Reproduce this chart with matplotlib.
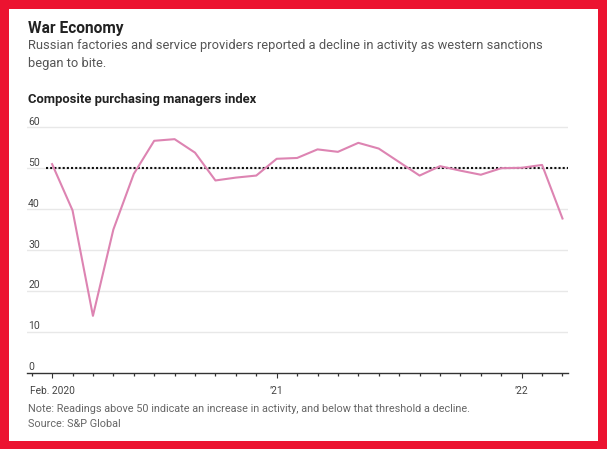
import matplotlib.pyplot as plt
from matplotlib.patches import Rectangle

plt.rcParams['font.family'] = ['Roboto', 'DejaVu Sans']

# monthly composite PMI, Feb 2020 .. Mar 2022
months = ["2020-02", "2020-03", "2020-04", "2020-05", "2020-06", "2020-07",
          "2020-08", "2020-09", "2020-10", "2020-11", "2020-12", "2021-01",
          "2021-02", "2021-03", "2021-04", "2021-05", "2021-06", "2021-07",
          "2021-08", "2021-09", "2021-10", "2021-11", "2021-12", "2022-01",
          "2022-02", "2022-03"]
pmi = [51.0, 39.7, 13.9, 35.0, 48.6, 56.7, 57.1, 53.8, 47.0, 47.7, 48.2, 52.3,
       52.5, 54.6, 54.0, 56.2, 54.8, 51.5, 48.2, 50.5, 49.4, 48.4, 50.0, 50.1,
       50.8, 37.7]
y_ticks = [0, 10, 20, 30, 40, 50, 60]
x_label_pos = [0, 11, 23]
x_labels = ["Feb. 2020", "\u201921", "\u201922"]

W, H = 607, 449
fig = plt.figure(figsize=(W / 100, H / 100), dpi=100, facecolor='#EC1330')
fig.patches.append(Rectangle((9 / W, 1 - 441 / H), 589 / W, 432 / H,
                             transform=fig.transFigure, facecolor='white',
                             edgecolor='none', zorder=-1))

def ftext(x, y, s, **kw):
    fig.text(x / W, 1 - y / H, s, va='baseline', ha='left', **kw)

ftext(28, 32.7, "War Economy", fontsize=11.2, fontweight='bold', color='#222222')
ftext(28, 48.5, "Russian factories and service providers reported a decline in activity as western sanctions",
      fontsize=9.3, color='#555555')
ftext(28, 66.5, "began to bite.", fontsize=9.3, color='#555555')
ftext(28, 103.3, "Composite purchasing managers index", fontsize=9.4, fontweight='bold', color='#222222')
ftext(28, 411.7, "Note: Readings above 50 indicate an increase in activity, and below that threshold a decline.",
      fontsize=7.8, color='#666666')
ftext(28, 426.7, "Source: S&P Global", fontsize=7.8, color='#666666')

# axes: x from 27 to 568 px, y=0 at 372.7 px, 4.09 px per unit
ax = fig.add_axes([27 / W, (H - 372.7) / H, 541 / W, 62 * 4.09 / H])
ax.set_facecolor('none')
ax.set_xlim(-1.23, 25.27)
ax.set_ylim(0, 62)

for v in y_ticks[1:]:
    ax.axhline(v, color='#e8e8e8', lw=1, zorder=1)
for v in y_ticks:
    ax.text(0.002, v + 0.6, str(v), transform=ax.get_yaxis_transform(),
            va='baseline', ha='left', fontsize=7.5, color='#444444')

ax.plot([-0.3, 25.25], [50, 50], color='#111111', lw=1.5,
        linestyle=(0, (1, 1)), zorder=2)
ax.plot(range(len(pmi)), pmi, color='#DD84B2', lw=1.5, zorder=3)

for s in ['top', 'right', 'left']:
    ax.spines[s].set_visible(False)
ax.spines['bottom'].set_color('#333333')
ax.spines['bottom'].set_linewidth(1)
ax.set_yticks([])
ax.set_xticks(x_label_pos)
ax.set_xticklabels(x_labels, fontsize=7.3, color='#444444')
ax.set_xticks(range(-1, len(pmi)), minor=True)
ax.tick_params(axis='x', which='major', length=3.5, width=0.8, color='#333333', pad=6)
ax.tick_params(axis='x', which='minor', length=2.2, width=0.9, color='#333333')

fig.savefig('out.png', dpi=100, facecolor=fig.get_facecolor())
